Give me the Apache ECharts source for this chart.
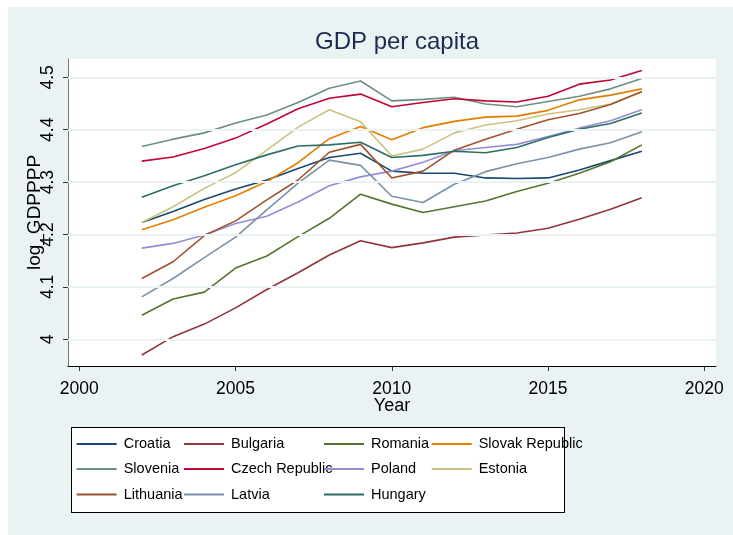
<!DOCTYPE html>
<html>
<head>
<meta charset="utf-8">
<script src="https://cdn.jsdelivr.net/npm/echarts@6/dist/echarts.min.js"></script>
<style>
  html, body { margin: 0; padding: 0; background: #ffffff; }
  #bg { position: absolute; left: 8px; top: 7px; width: 725px; height: 528px; background: #eaf2f3; }
  #legbox { position: absolute; left: 71px; top: 427px; width: 492px; height: 84px; background: #ffffff; border: 1px solid #000; }
  #chart { position: absolute; left: 0; top: 0; width: 733px; height: 535px; }
</style>
</head>
<body>
<div id="bg"></div>
<div id="legbox"></div>
<div id="chart"></div>
<script>
// ---- data ----
const years = [2002, 2003, 2004, 2005, 2006, 2007, 2008, 2009, 2010, 2011, 2012, 2013, 2014, 2015, 2016, 2017, 2018];
const xTicks = [2000, 2005, 2010, 2015, 2020];
const yTicks = [4, 4.1, 4.2, 4.3, 4.4, 4.5];
const yTickLabels = ['4', '4.1', '4.2', '4.3', '4.4', '4.5'];

const croatia   = [4.223, 4.244, 4.267, 4.287, 4.304, 4.326, 4.347, 4.355, 4.321, 4.317, 4.317, 4.308, 4.307, 4.308, 4.323, 4.341, 4.359];
const bulgaria  = [3.970, 4.005, 4.029, 4.060, 4.095, 4.127, 4.161, 4.188, 4.175, 4.184, 4.195, 4.199, 4.203, 4.212, 4.229, 4.248, 4.270];
const romania   = [4.046, 4.077, 4.090, 4.136, 4.159, 4.196, 4.231, 4.277, 4.258, 4.242, 4.253, 4.264, 4.282, 4.298, 4.317, 4.339, 4.371];
const slovakia  = [4.209, 4.228, 4.252, 4.274, 4.301, 4.337, 4.383, 4.406, 4.381, 4.404, 4.416, 4.424, 4.426, 4.437, 4.457, 4.466, 4.478];
const slovenia  = [4.368, 4.382, 4.394, 4.413, 4.428, 4.452, 4.479, 4.493, 4.455, 4.458, 4.462, 4.449, 4.444, 4.454, 4.464, 4.478, 4.498];
const czech     = [4.340, 4.348, 4.364, 4.384, 4.411, 4.440, 4.460, 4.468, 4.444, 4.452, 4.459, 4.455, 4.453, 4.464, 4.487, 4.495, 4.513];
const poland    = [4.174, 4.183, 4.199, 4.221, 4.235, 4.262, 4.293, 4.310, 4.321, 4.338, 4.360, 4.366, 4.372, 4.387, 4.403, 4.417, 4.438];
const estonia   = [4.223, 4.253, 4.288, 4.318, 4.361, 4.405, 4.438, 4.415, 4.350, 4.363, 4.394, 4.409, 4.417, 4.430, 4.438, 4.449, 4.472];
const lithuania = [4.116, 4.148, 4.198, 4.226, 4.266, 4.304, 4.357, 4.372, 4.308, 4.321, 4.361, 4.382, 4.401, 4.419, 4.431, 4.448, 4.473];
const latvia    = [4.081, 4.116, 4.156, 4.195, 4.247, 4.298, 4.342, 4.332, 4.273, 4.261, 4.296, 4.320, 4.335, 4.347, 4.363, 4.375, 4.396];
const hungary   = [4.271, 4.293, 4.312, 4.333, 4.352, 4.369, 4.371, 4.376, 4.347, 4.351, 4.359, 4.356, 4.366, 4.385, 4.401, 4.412, 4.432];

const names  = ['Croatia', 'Bulgaria', 'Romania', 'Slovak Republic', 'Slovenia', 'Czech Republic', 'Poland', 'Estonia', 'Lithuania', 'Latvia', 'Hungary'];
const values = [croatia, bulgaria, romania, slovakia, slovenia, czech, poland, estonia, lithuania, latvia, hungary];
const colors = ['#1a476f', '#90353b', '#55752f', '#e37e00', '#6e8e84', '#c10534', '#938dd2', '#cac27e', '#a0522d', '#7b92a8', '#2d6d66'];

// ---- layout ----
const FONT = 'Liberation Sans, Arial, sans-serif';
const legendCols = [76.7, 184, 324, 431.7];
const legendRows = [436.5, 461.5, 487];

const chart = echarts.init(document.getElementById('chart'), null, { renderer: 'canvas' });

const series = [{
  type: 'line',
  data: [],
  z: 1,
  silent: true,
  markLine: {
    silent: true,
    symbol: ['none', 'none'],
    label: { show: false },
    animation: false,
    lineStyle: { color: '#eaf2f3', width: 1.8, type: 'solid' },
    emphasis: { disabled: true },
    data: yTicks.map(v => ({ yAxis: v }))
  }
}];
names.forEach((n, i) => {
  series.push({
    name: n,
    type: 'line',
    data: years.map((y, j) => [y, values[i][j]]),
    showSymbol: false,
    symbol: 'none',
    color: colors[i],
    lineStyle: { color: colors[i], width: 1.6 },
    itemStyle: { color: colors[i] },
    z: 3,
    emphasis: { disabled: true }
  });
});

const legends = names.map((n, i) => ({
  show: true,
  data: [n],
  left: legendCols[i % 4],
  top: legendRows[Math.floor(i / 4)],
  padding: 0,
  icon: 'rect',
  itemWidth: 40,
  itemHeight: 2,
  selectedMode: false,
  textStyle: { fontFamily: FONT, fontSize: 14.5, color: '#000', padding: [0, 0, 0, 2] }
}));

const option = {
  animation: false,
  backgroundColor: 'transparent',
  title: {
    text: 'GDP per capita',
    left: 392,
    textAlign: 'center',
    top: 25,
    textStyle: { fontFamily: FONT, fontSize: 24, fontWeight: 'normal', color: '#1c2b4f' }
  },
  legend: legends,
  grid: {
    left: 68, top: 59, right: 17, bottom: 169,
    show: true, backgroundColor: '#ffffff', borderWidth: 0
  },
  xAxis: {
    type: 'value',
    min: 1999.638,
    max: 2020.374,
    name: 'Year',
    nameLocation: 'middle',
    nameGap: 31,
    nameMoveOverlap: false,
    nameTextStyle: { fontFamily: FONT, fontSize: 18, color: '#000' },
    axisLine: { show: true, onZero: false, lineStyle: { color: '#000', width: 1 } },
    axisTick: { show: true, customValues: xTicks, length: 5, lineStyle: { color: '#333', width: 1 } },
    axisLabel: { customValues: xTicks, fontFamily: FONT, fontSize: 17.5, color: '#000', margin: 14,
      formatter: v => String(Math.round(v)) },
    splitLine: { show: false }
  },
  yAxis: {
    type: 'value',
    min: 3.949,
    max: 4.535,
    name: 'log_GDPPPP',
    nameLocation: 'middle',
    nameGap: 24,
    nameMoveOverlap: false,
    nameTextStyle: { fontFamily: FONT, fontSize: 19, color: '#000' },
    axisLine: { show: true, onZero: false, lineStyle: { color: '#777', width: 1 } },
    axisTick: { show: true, customValues: yTicks, length: 5, lineStyle: { color: '#333', width: 1 } },
    axisLabel: {
      customValues: yTicks,
      rotate: 90,
      fontFamily: FONT, fontSize: 17.5, color: '#000', margin: 11,
      formatter: v => { const k = yTicks.findIndex(t => Math.abs(t - v) < 1e-6); return k >= 0 ? yTickLabels[k] : ''; }
    },
    splitLine: { show: false }
  },
  series: series
};
chart.setOption(option);
</script>
</body>
</html>
